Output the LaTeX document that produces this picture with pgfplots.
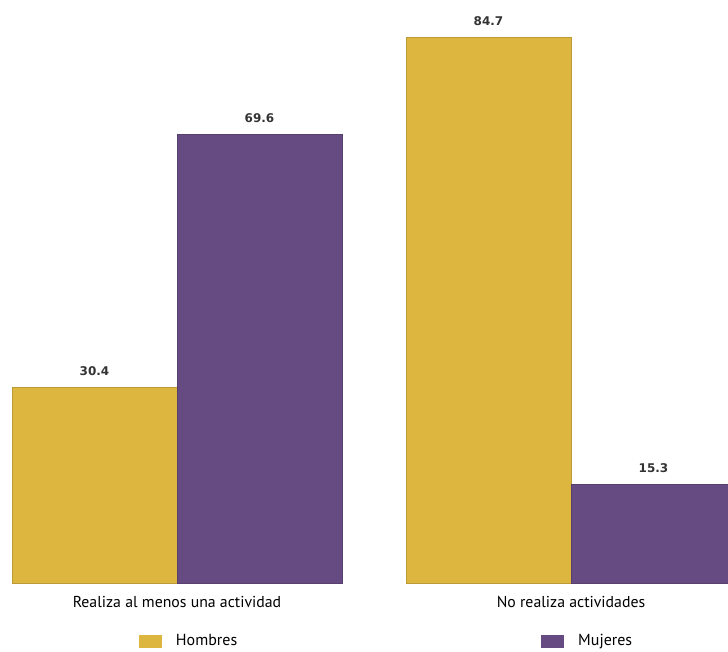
\documentclass[border=0pt]{standalone}
\usepackage{pgfplots}
\pgfplotsset{compat=1.18}
\usepackage{fontspec}
\setmainfont{PT Sans}
\newfontfamily\valfont{DejaVu Sans}
\definecolor{hombres}{HTML}{DDB640}
\definecolor{mujeres}{HTML}{664B82}
\begin{document}
\begin{tikzpicture}[x=1pt,y=1pt]
\useasboundingbox (0,0) rectangle (728,-651);
\begin{axis}[
  at={(0,0)}, anchor=north west,
  scale only axis, width=728pt, height=583pt,
  xmin=0, xmax=728, ymin=0, ymax=90.44,
  axis line style={draw=none},
  ytick=\empty,
  xtick={177,571},
  xticklabels={Realiza al menos una actividad, No realiza actividades},
  major tick length=0pt,
  xticklabel style={font=\fontsize{15.8}{17}\selectfont, anchor=center, yshift=-19pt},
  ybar, bar width=165,
  nodes near coords,
  /pgf/number format/assume math mode=true,
  /pgf/number format/fixed, /pgf/number format/precision=1,
  every node near coord/.append style={font=\valfont\bfseries\fontsize{12}{14}\selectfont, anchor=center, yshift=16pt, text=black!80},
  legend columns=2,
  legend style={draw=none, fill=none, inner sep=0pt, outer sep=0pt,
    at={(axis description cs:0.1909,-0.0995)}, anchor=west,
    font=\fontsize{16}{18}\selectfont,
    /tikz/every odd column/.append style={column sep=12pt},
    /tikz/every even column/.append style={column sep=302pt}},
  legend image code/.code={\fill[#1, draw=none] (0pt,-6.5pt) rectangle (23pt,6.5pt);},
]
\addplot[fill=hombres, draw=hombres!85!black, line width=0.8pt, bar shift=-82.5]
  coordinates {(177,30.4) (571,84.7)};
\addplot[fill=mujeres, draw=mujeres!85!black, line width=0.8pt, bar shift=82.5]
  coordinates {(177,69.6) (571,15.3)};
\legend{Hombres, Mujeres}
\end{axis}
\end{tikzpicture}
\end{document}
